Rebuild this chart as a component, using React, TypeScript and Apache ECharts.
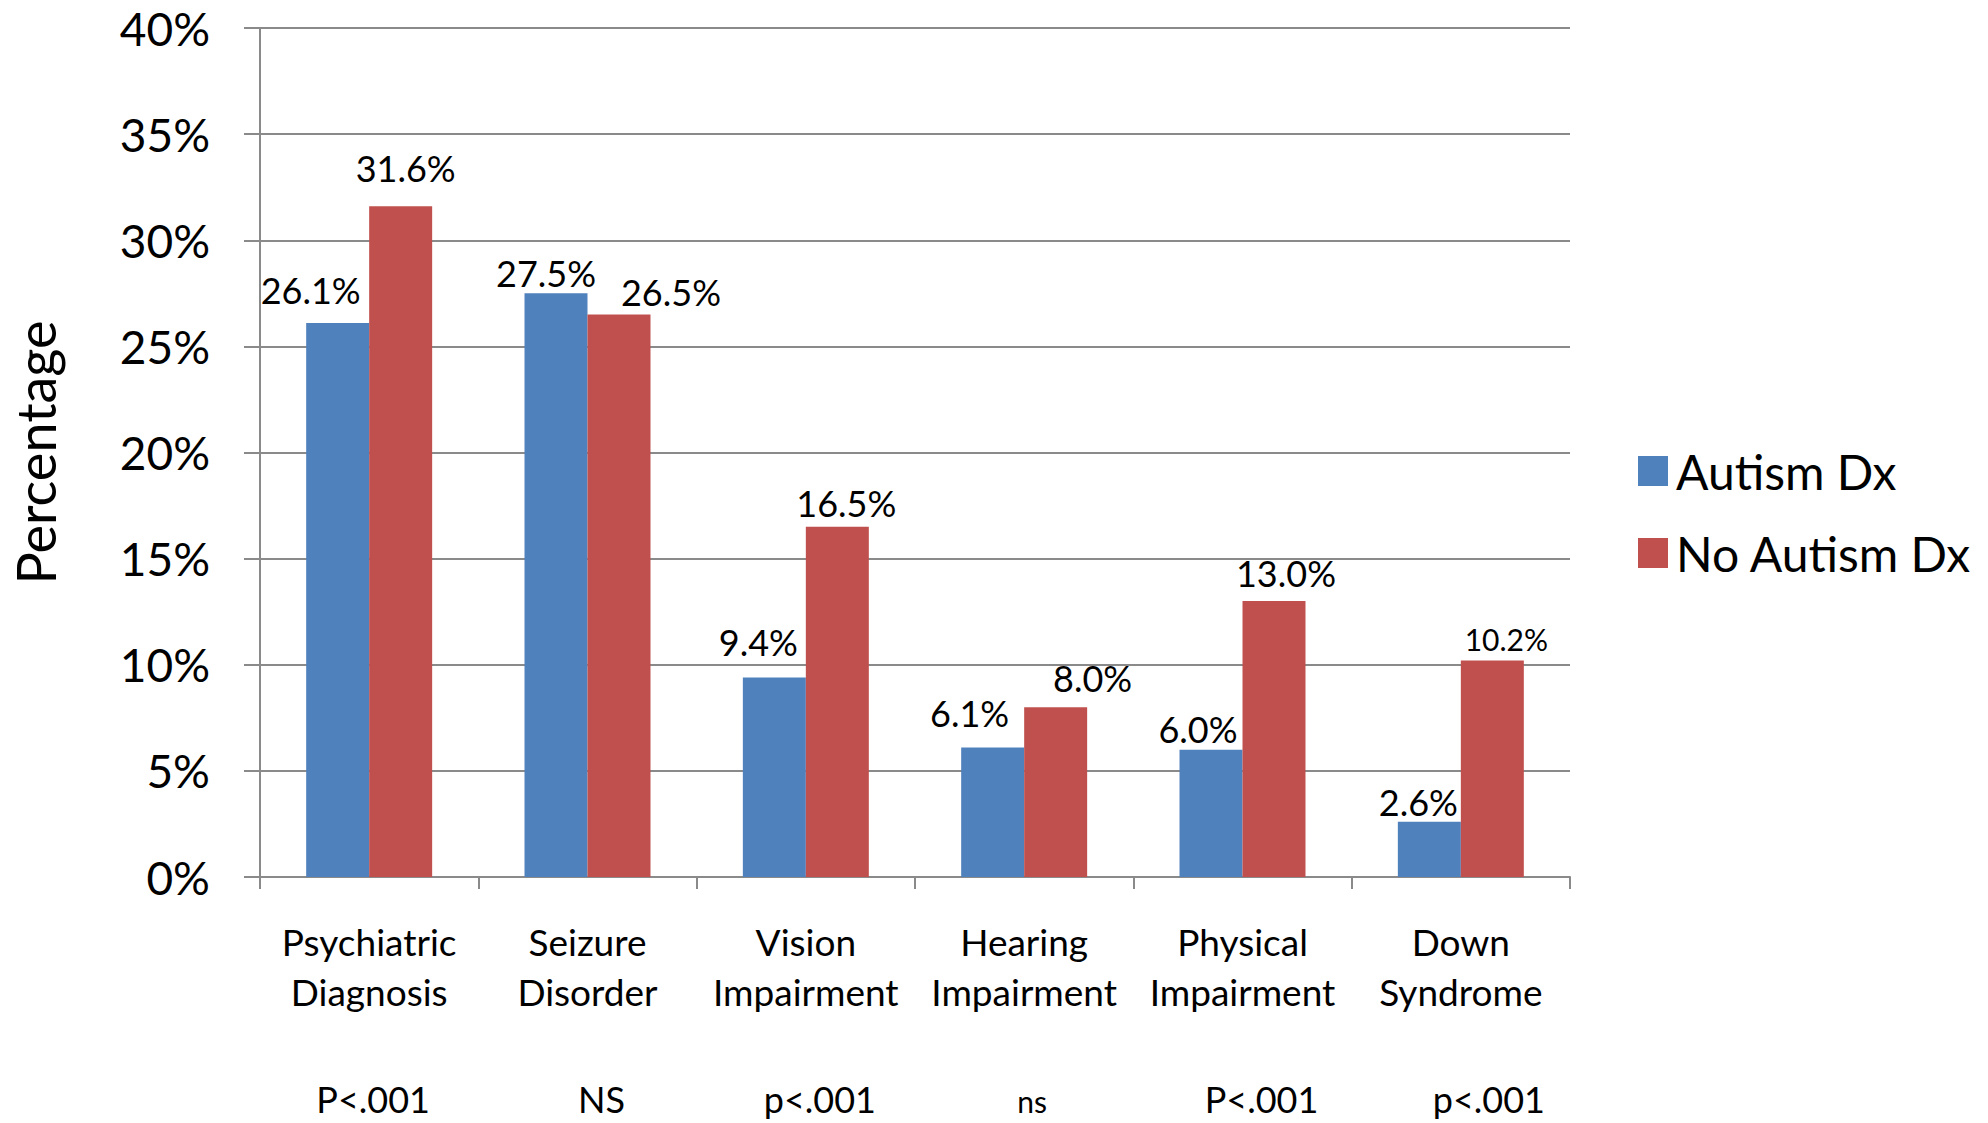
import React, { useEffect, useRef } from "react";
import * as echarts from "echarts";

// ---- data ----
const categories = [
  "Psychiatric\nDiagnosis",
  "Seizure\nDisorder",
  "Vision\nImpairment",
  "Hearing\nImpairment",
  "Physical\nImpairment",
  "Down\nSyndrome",
];
const autismDx = [26.1, 27.5, 9.4, 6.1, 6.0, 2.6];
const noAutismDx = [31.6, 26.5, 16.5, 8.0, 13.0, 10.2];
const pValues = ["P<.001", "NS", "p<.001", "ns", "P<.001", "p<.001"];
const seriesNames = ["Autism Dx", "No Autism Dx"];
const yAxisName = "Percentage";
const yMin = 0;
const yMax = 40;
const yStep = 5;

// ---- layout tweaks (label nudges in px, font sizes) ----
const autismLabelOffsets = [[-27, -15], [-10, -2], [-16, -17], [-23, -17], [-13, -3], [-11, -2]];
const noAutismLabelOffsets = [[5, -20], [52, -5], [9, -6], [37, -11], [12, -10], [14, -7]];
const autismLabelSizes = [36, 36, 36, 36, 36, 36];
const noAutismLabelSizes = [36, 36, 36, 36, 36, 30];
const pValueShift = [4, 14, 14, 8, 19, 28];
const pValueSizes = [36, 36, 36, 30, 36, 36];

const FONT = "Lato, 'Open Sans', 'DejaVu Sans', sans-serif";
const BLUE = "#4F81BD";
const RED = "#C0504D";
const GRID = "#8a8a8a";

export default function App() {
  const ref = useRef<HTMLDivElement>(null);

  useEffect(() => {
    document.body.style.margin = "0";
    const el = ref.current!;
    const chart = echarts.init(el, undefined, { renderer: "svg" });

    const mkData = (vals: number[], offs: number[][], sizes: number[]) =>
      vals.map((v, i) => ({
        value: v,
        label: { offset: offs[i], fontSize: sizes[i] },
      }));

    const labelCommon = {
      show: true,
      position: "top",
      distance: 0,
      color: "#000",
      fontFamily: FONT,
      formatter: (p: any) => Number(p.value).toFixed(1) + "%",
    };

    chart.setOption({
      animation: false,
      backgroundColor: "#fff",
      textStyle: { fontFamily: FONT },
      grid: { left: 259, right: 418, top: 28, bottom: 246, containLabel: false },
      legend: {
        orient: "vertical",
        left: 1633,
        top: 442,
        icon: "rect",
        itemWidth: 30,
        itemHeight: 30,
        itemGap: 34,
        textStyle: { fontSize: 48, fontFamily: FONT, color: "#000", lineHeight: 48, padding: [0, 0, 0, 3] },
        data: seriesNames,
      },
      xAxis: {
        type: "category",
        data: categories,
        axisLine: { show: true, lineStyle: { color: GRID, width: 2 } },
        axisTick: { show: true, length: 12, lineStyle: { color: GRID, width: 2 } },
        axisLabel: {
          interval: 0,
          margin: 39,
          fontSize: 37,
          lineHeight: 50,
          color: "#000",
          fontFamily: FONT,
        },
      },
      yAxis: {
        type: "value",
        min: yMin,
        max: yMax,
        interval: yStep,
        name: yAxisName,
        nameLocation: "middle",
        nameRotate: 90,
        nameGap: 198,
        nameTextStyle: { fontSize: 54, color: "#000", fontFamily: FONT },
        axisLine: { show: true, lineStyle: { color: GRID, width: 2 } },
        axisTick: { show: true, length: 16, lineStyle: { color: GRID, width: 2 } },
        axisLabel: {
          formatter: "{value}%",
          fontSize: 46,
          margin: 50,
          color: "#000",
          fontFamily: FONT,
        },
        splitLine: { show: true, lineStyle: { color: GRID, width: 2 } },
      },
      series: [
        {
          name: seriesNames[0],
          type: "bar",
          barGap: "0%",
          barCategoryGap: "42.3%",
          itemStyle: { color: BLUE },
          label: labelCommon,
          data: mkData(autismDx, autismLabelOffsets, autismLabelSizes),
        },
        {
          name: seriesNames[1],
          type: "bar",
          barGap: "0%",
          barCategoryGap: "42.3%",
          itemStyle: { color: RED },
          label: labelCommon,
          data: mkData(noAutismDx, noAutismLabelOffsets, noAutismLabelSizes),
        },
      ],
    });

    const baseline = 1113;
    const graphics = pValues.map((t, i) => {
      const x = chart.convertToPixel({ xAxisIndex: 0 }, i) as number;
      const fs = pValueSizes[i];
      return {
        type: "text",
        x: x + pValueShift[i],
        y: baseline - 0.387 * fs,
        style: {
          text: t,
          fill: "#000",
          fontSize: fs,
          fontFamily: FONT,
          textAlign: "center",
          textVerticalAlign: "middle",
        },
      };
    });
    chart.setOption({ graphic: graphics });

    return () => chart.dispose();
  }, []);

  return <div ref={ref} style={{ width: 1988, height: 1123 }} />;
}
